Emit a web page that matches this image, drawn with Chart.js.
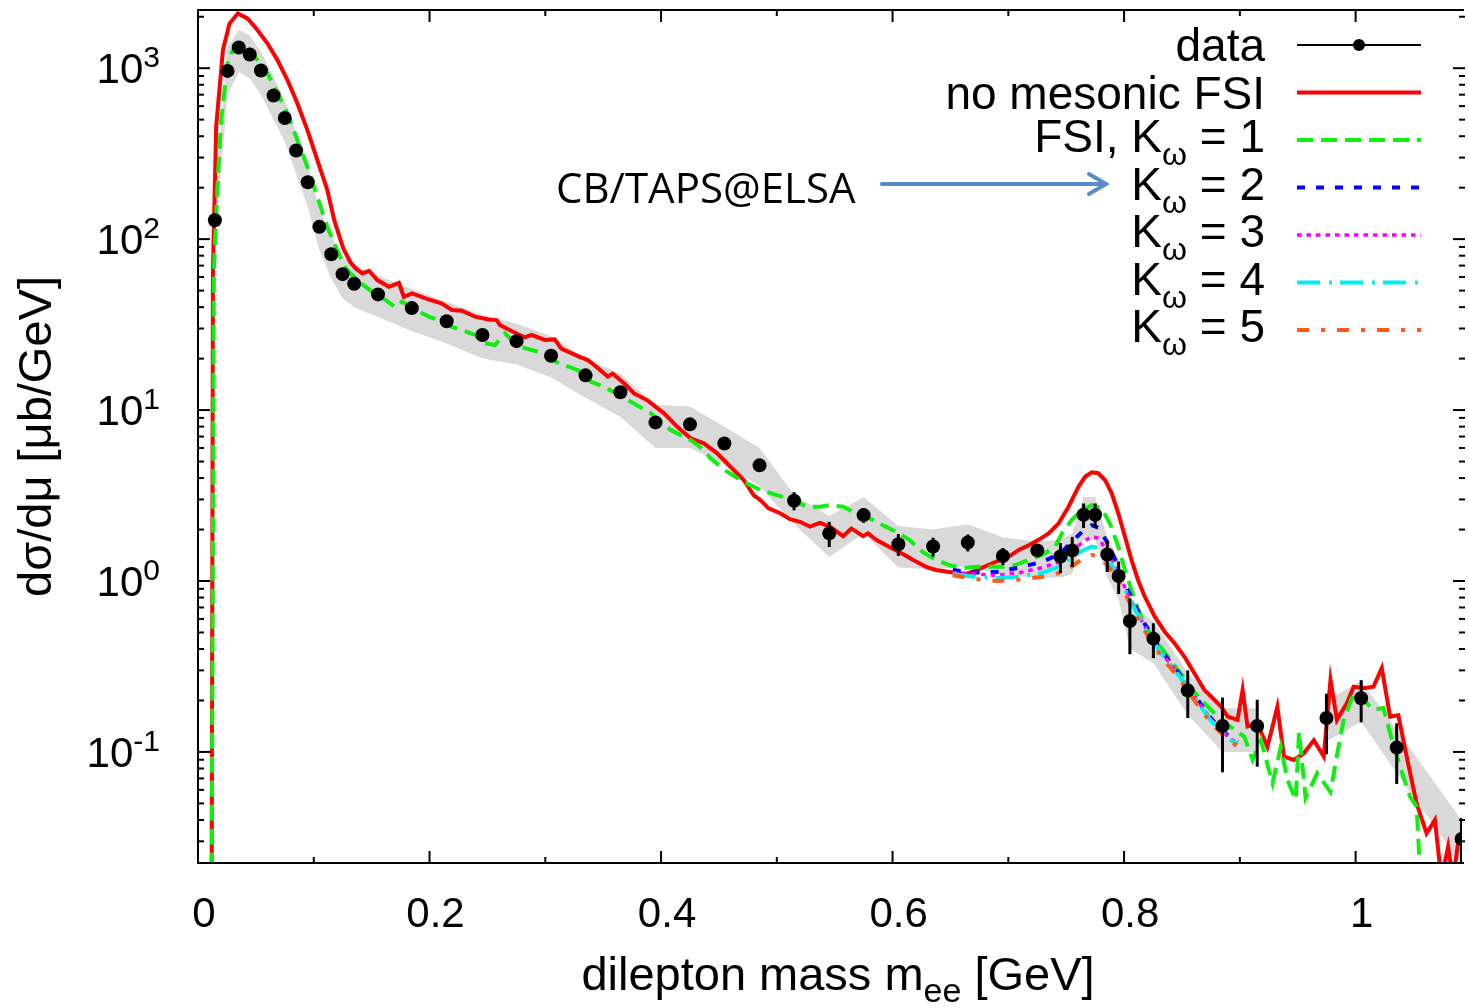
<!DOCTYPE html>
<html>
<head>
<meta charset="utf-8">
<script src="https://cdn.jsdelivr.net/npm/chart.js@4.4.0/dist/chart.umd.min.js"></script>
<style>
html, body { margin: 0; padding: 0; background: #fff; overflow: hidden; }
canvas { display: block; }
</style>
</head>
<body>
<canvas id="chrt" width="1469" height="1008"></canvas>
<script>
// CB/TAPS@ELSA data points
var dataX = [0.0146,0.0255,0.0352,0.0447,0.0544,0.0653,0.075,0.0848,0.0948,0.1048,0.1151,0.1249,0.1349,0.1555,
  0.1847,0.2148,0.2457,0.2752,0.305,0.3348,0.3649,0.3952,0.425,0.4547,0.4851,0.5149,0.5453,0.575,0.605,0.635,
  0.665,0.6953,0.725,0.745,0.7552,0.765,0.775,0.7855,0.7953,0.805,0.8253,0.855,0.885,0.915,0.9748,1.0048,1.0355,1.0915];
var dataY = [129,964,1322,1202,969,692,511,330,215,118,81.5,62.4,54.8,47.5,
  39.5,33.1,27.5,25.3,20.8,15.96,12.7,8.47,8.25,6.38,4.75,2.95,1.90,2.43,1.64,1.59,
  1.68,1.40,1.51,1.39,1.51,2.44,2.44,1.43,1.07,0.583,0.46,0.229,0.142,0.142,0.158,0.206,0.106,0.031];
var dataErr = [4,25,30,28,22,16,12,8,5,3,2,1.6,1.4,1.2,
  1.0,0.9,0.8,0.7,0.6,0.5,0.45,0.35,0.35,0.3,0.3,0.36,0.32,0.24,0.24,0.2,
  0.19,0.16,0.1,0.28,0.3,0.4,0.4,0.3,0.23,0.21,0.106,0.071,0.066,0.06,0.061,0.057,0.041,0.01];

// grey systematic band (null = gap)
var bandX = [0.0146,0.0255,0.0352,0.0447,0.0544,0.0653,0.075,0.0848,0.0948,0.1048,0.1151,0.1249,0.1349,0.1555,
  0.1847,0.2148,0.2457,0.2752,0.305,0.3348,0.3649,0.3952,0.425,0.4547,0.4851,0.5149,0.5453,0.575,0.605,0.635,
  0.665,0.6953,0.725,0.745,0.7552,0.765,0.775,0.7855,0.7953,0.805,0.8253,0.855,0.885,0.915,0.945,0.9748,1.0048,1.0355,1.0915];
var bandHi = [180,1330,1670,1560,1250,890,650,420,275,150,104,79,70,61,
  51,43,36,32,27,20,16.3,10.7,10.5,8.0,6.0,3.2,2.4,3.1,2.1,2.0,
  2.15,1.8,1.7,1.75,1.9,3.1,3.1,1.8,1.35,0.75,0.58,0.29,0.18,0.18,null,0.2,0.26,0.135,0.04];
var bandLo = [95,700,950,870,700,500,370,240,155,86,59,45,40,35,
  29,24.5,20,18.5,15.5,11.8,9.1,6.0,6.0,4.8,3.6,2.15,1.38,1.9,1.2,1.17,
  1.22,1.08,1.05,1.05,1.1,1.75,1.75,1.05,0.78,0.4,0.33,0.165,0.1,0.1,null,0.115,0.15,0.075,0.022];

// no mesonic FSI
var redX = [0.0118,0.0129,0.0157,0.0215,0.0272,0.0344,0.043,0.0515,0.0601,0.0687,0.0773,0.0859,0.0945,0.1031,0.1117,
  0.1177,0.1254,0.1318,0.1363,0.142,0.1478,0.1549,0.165,0.1735,0.1778,0.185,0.1965,0.2107,0.2193,0.2279,0.2394,
  0.2509,0.258,0.2609,0.2709,0.2824,0.2881,0.2996,0.3082,0.3138,0.3282,0.3368,0.3425,0.354,0.3582,0.3683,0.3769,
  0.3883,0.4026,0.4141,0.4255,0.437,0.4485,0.4599,0.4714,0.48,0.4857,0.4929,0.5029,0.5114,0.52,0.5286,0.5372,
  0.5458,0.5573,0.5644,0.5745,0.5788,0.5859,0.5973,0.6089,0.6174,0.6289,0.6375,0.6518,0.6632,0.6718,0.6862,
  0.7004,0.709,0.7176,0.7262,0.7348,0.7434,0.752,0.7606,0.7663,0.7721,0.7777,0.7835,0.7893,0.795,0.8007,0.8064,
  0.8121,0.8179,0.8265,0.8351,0.8436,0.8522,0.8608,0.8694,0.8752,0.8838,0.8895,0.898,0.9024,0.9066,0.9152,0.9238,
  0.9324,0.9381,0.9467,0.9553,0.9639,0.9725,0.9783,0.9839,0.9925,0.9983,1.0069,1.0155,1.0226,1.0298,1.0369,1.0441,
  1.0527,1.0613,1.0685,1.0741,1.0799,1.0842,1.0885,1.0919,1.0945];
var redY = [0.015,66,454,1274,1824,2090,1950,1667,1394,1113,851,622,434,290,194,
  129,88.5,73,67.4,63,65.3,57.6,52.6,55.5,46,48.1,45,42,38.5,38.1,35.2,
  33.9,33.6,31.4,29,26.6,27.5,25.7,25.9,22.9,20.7,19.6,18.3,15.7,16.3,14.3,12.5,
  11.4,9.57,7.98,6.84,6.39,5.58,4.66,3.90,3.18,2.98,2.66,2.49,2.30,2.22,2.08,2.19,
  2.08,1.83,2.03,1.83,1.90,1.74,1.58,1.44,1.33,1.21,1.16,1.12,1.10,1.15,1.27,
  1.39,1.52,1.62,1.74,1.90,2.17,2.72,3.56,4.07,4.32,4.27,3.90,3.26,2.49,1.82,1.33,
  1.01,0.81,0.618,0.505,0.432,0.360,0.288,0.230,0.211,0.184,0.161,0.154,0.231,0.141,0.147,0.107,
  0.184,0.094,0.0898,0.0982,0.117,0.094,0.264,0.154,0.193,0.241,0.236,0.241,0.309,0.161,0.164,0.094,
  0.050,0.0334,0.040,0.018,0.0279,0.018,0.0292,0.0306,0.026];

// FSI, K_omega = 1
var greenX = [0.0118,0.0137,0.0172,0.02,0.0258,0.0315,0.0372,0.043,0.0515,0.0601,0.0687,0.0773,0.0859,0.0945,
  0.1031,0.1117,0.1203,0.126,0.1306,0.1392,0.1506,0.1621,0.1707,0.1764,0.1879,0.1993,0.2079,0.2193,0.2279,
  0.2394,0.248,0.2566,0.2652,0.2738,0.2824,0.2938,0.3052,0.3282,0.3396,0.3511,0.3654,0.3769,0.3912,0.4083,
  0.4198,0.4255,0.437,0.4427,0.457,0.4714,0.4857,0.50,0.5143,0.5258,0.5372,0.5458,0.5573,0.5687,0.5801,0.5916,
  0.6031,0.6145,0.626,0.6375,0.6489,0.6604,0.6718,0.6833,0.6948,0.7062,0.7176,0.7291,0.7405,0.7463,0.7549,
  0.7635,0.7721,0.7807,0.7878,0.795,0.8007,0.8064,0.8121,0.8207,0.8293,0.8379,0.8465,0.8551,0.8637,0.8723,
  0.8838,0.8952,0.9038,0.911,0.9182,0.9282,0.9354,0.9411,0.9483,0.9511,0.9568,0.9668,0.9783,0.9839,0.9897,
  0.9983,1.0069,1.0155,1.0241,1.0298,1.0384,1.047,1.0527,1.0556,1.06];
var greenY = [0.015,66,231,496,1113,1333,1395,1333,1113,931,711,543,379,265,
  177,118,86,70,64,56.3,49.2,44,39.9,43,38.5,35.2,33.6,30.7,29.4,
  27.5,24.6,24,28.1,24.6,23,21.9,19.6,17.1,14.6,13.7,12,10.9,9.57,7.64,
  6.98,6.68,5.84,5.22,4.36,3.81,3.41,3.18,2.98,2.72,2.72,2.78,2.72,2.49,2.33,2.12,
  1.94,1.74,1.48,1.33,1.24,1.19,1.21,1.21,1.21,1.24,1.33,1.42,1.59,1.90,2.28,
  2.60,2.78,2.66,2.17,1.59,1.16,0.885,0.676,0.516,0.432,0.361,0.302,0.252,0.211,0.184,
  0.154,0.135,0.123,0.0898,0.117,0.0656,0.107,0.0686,0.0524,0.131,0.0538,0.075,0.0583,0.096,0.154,
  0.22,0.201,0.176,0.181,0.129,0.082,0.0548,0.0479,0.02,0.012];

// K_omega = 2..5 (omega region only)
var kX = [0.652,0.67,0.69,0.71,0.73,0.745,0.755,0.765,0.772,0.778,0.785,0.795,0.8033,0.8179,0.8322,0.8465,0.8608,0.8752,0.8895,0.898];
var k2Y = [1.16,1.12,1.13,1.2,1.3,1.45,1.7,1.98,2.12,2.05,1.7,1.22,0.88,0.56,0.39,0.295,0.215,0.157,0.125,0.114];
var k3Y = [1.12,1.1,1.08,1.12,1.2,1.3,1.5,1.7,1.82,1.78,1.5,1.12,0.84,0.54,0.38,0.29,0.21,0.155,0.123,0.112];
var k4Y = [1.1,1.06,1.04,1.06,1.12,1.22,1.38,1.52,1.59,1.56,1.38,1.08,0.82,0.53,0.375,0.285,0.207,0.152,0.121,0.11];
var k5Y = [1.08,1.03,1.0,1.02,1.06,1.12,1.22,1.36,1.42,1.4,1.25,1.02,0.78,0.51,0.36,0.275,0.2,0.147,0.118,0.108];

var xTickVals = [0, 0.2, 0.4, 0.6, 0.8, 1];
var xTickLabels = ['0', '0.2', '0.4', '0.6', '0.8', '1'];
var yExps = [-1, 0, 1, 2, 3];
var legendText = [[['data']], [['no mesonic FSI']], [['FSI, K'], ['ω', 1], [' = 1']],
  [['K'], ['ω', 1], [' = 2']], [['K'], ['ω', 1], [' = 3']], [['K'], ['ω', 1], [' = 4']], [['K'], ['ω', 1], [' = 5']]];

var FONT = '"Liberation Sans", Arial, sans-serif';
Chart.defaults.font.family = FONT;
Chart.defaults.color = '#000';

function pts(xs, ys) {
  return xs.map(function(x, i) { return {x: x, y: ys[i]}; });
}
function line(ds, label, color, width, dash, order) {
  return {label: label, data: ds, borderColor: color, borderWidth: width, borderDash: dash,
    pointRadius: 0, pointHoverRadius: 0, fill: false, tension: 0, order: order};
}

function drawParts(ctx, parts, x, y, align, big, small, dy) {
  var w = 0, ws = [];
  parts.forEach(function(p) {
    ctx.font = p[1] ? small : big;
    var m = ctx.measureText(p[0]).width;
    ws.push(m); w += m;
  });
  var cx = align === 'right' ? x - w : (align === 'center' ? x - w / 2 : x);
  ctx.textAlign = 'left';
  ctx.textBaseline = 'alphabetic';
  parts.forEach(function(p, i) {
    ctx.font = p[1] ? small : big;
    ctx.fillText(p[0], cx, p[1] ? y + dy : y);
    cx += ws[i];
  });
}

function seg(ctx, x1, y1, x2, y2) {
  ctx.beginPath(); ctx.moveTo(x1, y1); ctx.lineTo(x2, y2); ctx.stroke();
}

var decor = {
  id: 'decor',
  afterDraw: function(chart) {
    var ctx = chart.ctx, a = chart.chartArea;
    var xs = chart.scales.x, ys = chart.scales.y;
    var rightAxis = a.right + 3; // right border sits just outside the picture
    ctx.save();

    // error bars
    ctx.save();
    ctx.beginPath();
    ctx.rect(a.left, a.top, a.right - a.left, a.bottom - a.top);
    ctx.clip();
    ctx.strokeStyle = '#000';
    ctx.lineWidth = 3;
    dataX.forEach(function(x, i) {
      var px = xs.getPixelForValue(x);
      var lo = Math.max(dataY[i] - dataErr[i], 1e-4);
      seg(ctx, px, ys.getPixelForValue(dataY[i] + dataErr[i]), px, ys.getPixelForValue(lo));
    });
    ctx.restore();

    // frame and ticks
    ctx.strokeStyle = '#000';
    ctx.lineWidth = 2;
    ctx.setLineDash([]);
    ctx.beginPath();
    ctx.moveTo(a.right + 2, a.top);
    ctx.lineTo(a.left, a.top);
    ctx.lineTo(a.left, a.bottom);
    ctx.lineTo(a.right + 2, a.bottom);
    ctx.stroke();
    for (var k = 0; k <= 10; k++) {
      var px = xs.getPixelForValue(k / 10);
      var len = k % 2 === 0 ? 12 : 6;
      seg(ctx, px, a.bottom, px, a.bottom - len);
      seg(ctx, px, a.top, px, a.top + len);
    }
    ys.ticks.forEach(function(t) {
      var v = t.value;
      var e = Math.floor(Math.log10(v) + 1e-9);
      var s = v / Math.pow(10, e);
      if (Math.abs(s - Math.round(s)) > 1e-6) return;
      var py = ys.getPixelForValue(v);
      if (py < a.top || py > a.bottom) return;
      var len = Math.round(s) === 1 ? 12 : 6;
      seg(ctx, a.left, py, a.left + len, py);
      seg(ctx, rightAxis, py, rightAxis - len, py);
    });

    // x tick labels
    ctx.fillStyle = '#000';
    ctx.font = '42px ' + FONT;
    ctx.textAlign = 'center';
    ctx.textBaseline = 'alphabetic';
    xTickVals.forEach(function(v, i) {
      ctx.fillText(xTickLabels[i], xs.getPixelForValue(v) + 6, 927);
    });

    // y tick labels 10^n
    yExps.forEach(function(e) {
      var py = ys.getPixelForValue(Math.pow(10, e));
      var big = '42px ' + FONT, sup = '30px ' + FONT;
      ctx.font = sup;
      var we = ctx.measureText(String(e)).width;
      ctx.font = big;
      ctx.textAlign = 'right';
      ctx.fillText('10', 160 - we, py + 15);
      ctx.font = sup;
      ctx.textAlign = 'left';
      ctx.fillText(String(e), 160 - we, py - 1);
    });

    // x axis title
    drawParts(ctx, [['dilepton mass m'], ['ee', 1], [' [GeV]']], 838, 990, 'center',
      '47px ' + FONT, '34px ' + FONT, 12);

    // legend
    var ds = chart.data.datasets;
    legendText.forEach(function(parts, i) {
      var sy = 45 + 47.5 * i;
      ctx.fillStyle = '#000';
      drawParts(ctx, parts, 1265, sy + (i < 2 ? 16 : 12), 'right', '46px ' + FONT, '32px ' + FONT, 13);
      var d = ds[i];
      if (i === 0) {
        ctx.strokeStyle = '#000';
        ctx.lineWidth = 2;
        ctx.setLineDash([]);
        seg(ctx, 1297, sy, 1421, sy);
        ctx.beginPath();
        ctx.arc(1359, sy, 6, 0, Math.PI * 2);
        ctx.fill();
      } else {
        ctx.strokeStyle = d.borderColor;
        ctx.lineWidth = d.borderWidth;
        ctx.setLineDash(d.borderDash || []);
        seg(ctx, 1297, sy, 1421, sy);
      }
    });
    ctx.setLineDash([]);

    // annotation
    ctx.fillStyle = '#000';
    ctx.font = '42px "Open Sans", sans-serif';
    ctx.textAlign = 'left';
    ctx.fillText('CB/TAPS@ELSA', 556, 203);
    ctx.strokeStyle = '#5b8bc8';
    ctx.lineWidth = 4;
    ctx.lineCap = 'round';
    seg(ctx, 882, 184, 1104, 184);
    ctx.beginPath();
    ctx.moveTo(1089, 174);
    ctx.lineTo(1106, 184);
    ctx.lineTo(1089, 194);
    ctx.stroke();
    ctx.restore();
  }
};

var chrt = document.getElementById('chrt').getContext('2d');
var myChart = new Chart(chrt, {
  type: 'line',
  data: {
    datasets: [
      {label: 'data', data: pts(dataX, dataY), showLine: false, pointRadius: 7, pointHoverRadius: 7,
        pointBackgroundColor: '#000', pointBorderWidth: 0, borderColor: '#000', order: 0},
      line(pts(redX, redY), 'no mesonic FSI', '#ff0000', 4, [], 6),
      line(pts(greenX, greenY), 'FSI, K=1', '#11ee11', 4, [16, 8], 5),
      line(pts(kX, k2Y), 'K=2', '#0000ff', 4, [8, 11], 4),
      line(pts(kX, k3Y), 'K=3', '#ff00ff', 3.5, [4.5, 5], 3),
      line(pts(kX, k4Y), 'K=4', '#00f0f0', 4, [23, 9, 3, 8], 2),
      line(pts(kX, k5Y), 'K=5', '#ff5a14', 4, [12, 12, 4, 12], 1),
      {label: 'band', data: pts(bandX, bandHi), borderWidth: 0, pointRadius: 0, pointHoverRadius: 0,
        fill: '+1', backgroundColor: '#d9d9d9', borderColor: 'rgba(0,0,0,0)', spanGaps: false, order: 20},
      {label: 'bandlo', data: pts(bandX, bandLo), borderWidth: 0, pointRadius: 0, pointHoverRadius: 0,
        fill: false, borderColor: 'rgba(0,0,0,0)', spanGaps: false, order: 21}
    ]
  },
  options: {
    responsive: false,
    animation: false,
    devicePixelRatio: 1,
    events: [],
    layout: {padding: {top: 10, right: 0, left: 0, bottom: 0}},
    plugins: {legend: {display: false}, tooltip: {enabled: false}},
    scales: {
      x: {
        type: 'linear', min: 0, max: 1.0919,
        grid: {display: false, drawTicks: false},
        border: {display: false},
        afterFit: function(s) { s.height = 145; },
        ticks: {display: false}
      },
      y: {
        type: 'logarithmic', min: 0.0224, max: 2190,
        grid: {display: false, drawTicks: false},
        border: {display: false},
        afterFit: function(s) { s.width = 198; },
        ticks: {display: false},
        title: {display: true, text: 'dσ/dμ [μb/GeV]', font: {size: 47}, color: '#000', padding: {top: 10, bottom: 0}}
      }
    }
  },
  plugins: [decor]
});
</script>
</body>
</html>
